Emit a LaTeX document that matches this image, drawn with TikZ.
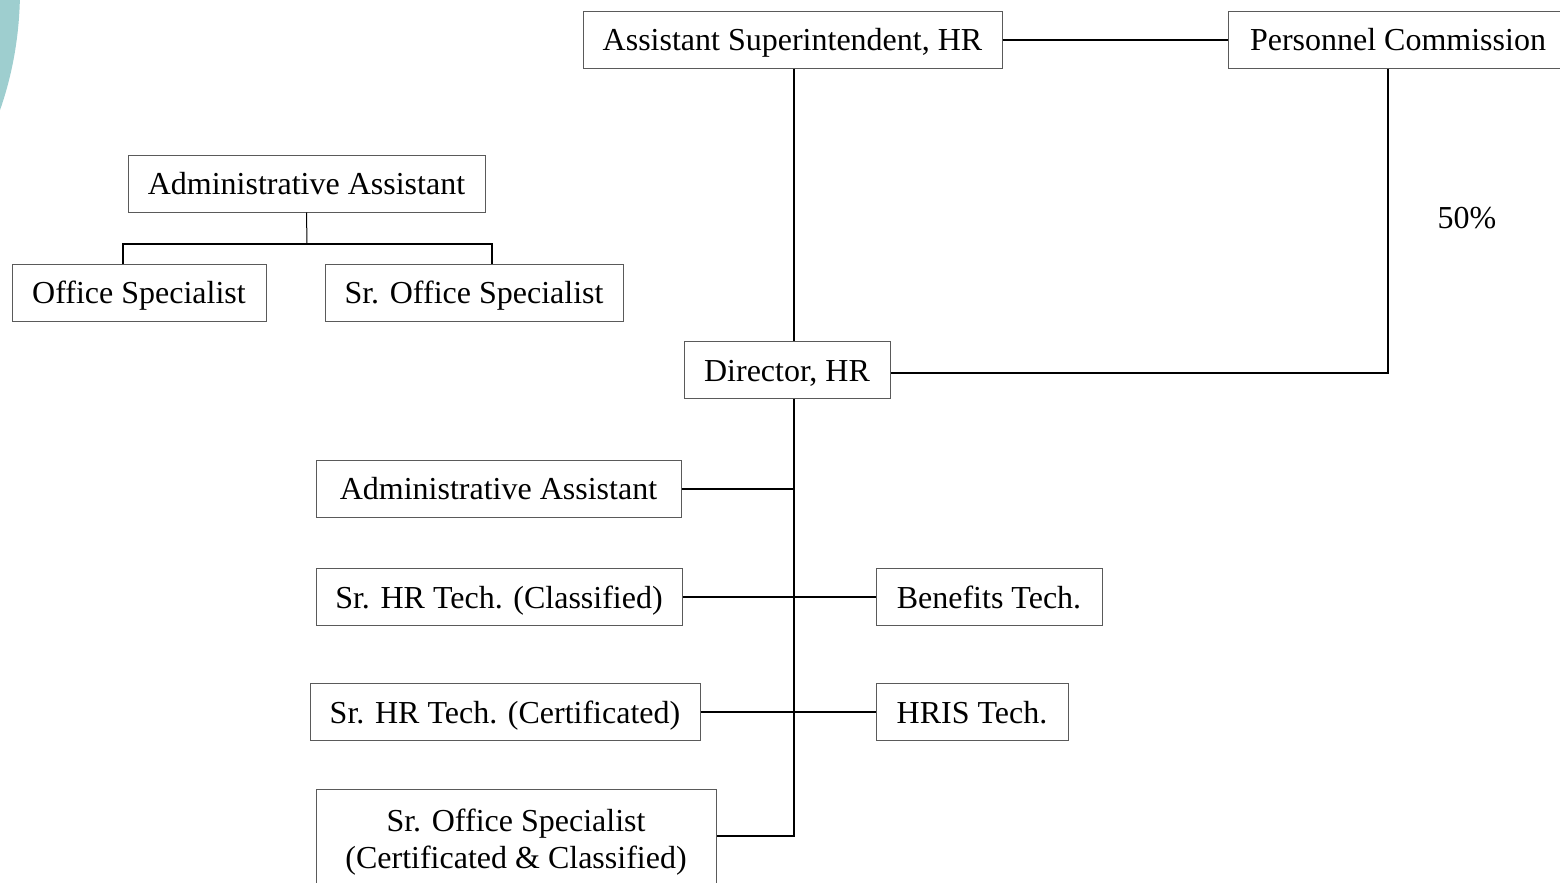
\documentclass[tikz,border=0pt]{standalone}
\usepackage{fontspec}
\setmainfont{Liberation Serif}
\definecolor{tealarc}{RGB}{158,206,207}
\definecolor{boxline}{RGB}{90,90,90}
\begin{document}
\begin{tikzpicture}[x=1pt,y=-1pt,
  box/.style={draw=boxline, line width=1pt, fill=white, minimum height=57, inner sep=0pt, text height=24pt, text depth=2pt, font=\fontsize{32}{37}\selectfont},
  link/.style={line width=2pt}]
\useasboundingbox (0,0) rectangle (1560,883);

% corner decoration
\fill[tealarc] (-200,-10) ellipse [x radius=220, y radius=288];

% top row
\node[box, minimum width=419] (asup) at (792.5,40) {Assistant Superintendent, HR};
\node[box, minimum width=340] (pcomm) at (1398,40) {Personnel Commission};
\node[box, minimum width=206] (dir) at (787,370) {Director, HR};
\node[font=\fontsize{32}{37}\selectfont] (pct) at (1467,218) {50\%};

% office staff
\node[box, minimum width=357] (aa1) at (306.5,183.5) {Administrative Assistant};
\node[box, minimum width=254] (os) at (139,292.5) {Office Specialist};
\node[box, minimum width=298] (sos) at (474,292.5) {Sr. Office Specialist};

% under the director
\node[box, minimum width=365] (aa2) at (498.5,488.5) {Administrative Assistant};
\node[box, minimum width=366] (hrcl) at (499,597) {Sr. HR Tech. (Classified)};
\node[box, minimum width=226] (ben) at (989,597) {Benefits Tech.};
\node[box, minimum width=390] (hrce) at (505,712) {Sr. HR Tech. (Certificated)};
\node[box, minimum width=192] (hris) at (972,712) {HRIS Tech.};
\node[box, minimum width=400, minimum height=106, text height=, text depth=, align=center] (sosc) at (516,842) {Sr. Office Specialist\\(Certificated \& Classified)};

% connectors
\coordinate (spine) at (794,836);
\coordinate (pc) at (1388,373);
\coordinate (fork) at (307,244);
\coordinate (forkl) at (123,244);
\coordinate (forkr) at (492,244);
\draw[link] (asup.east) -- (pcomm.west);
\draw[link] (asup.south -| spine) -- (dir.north -| spine);
\draw[link] (pcomm.south -| pc) -- (pc) -- (dir.east |- pc);
\draw[link] (dir.south -| spine) -- (spine) -- (sosc.east |- spine);
\draw[link] (aa2.east) -- (aa2.east -| spine);
\draw[link] (hrcl.east) -- (ben.west);
\draw[link] (hrce.east) -- (hris.west);
\draw[line width=1pt] (aa1.south) -- (fork);
\draw[link] (os.north -| forkl) -- (forkl) -- (forkr) -- (sos.north -| forkr);
\end{tikzpicture}
\end{document}
